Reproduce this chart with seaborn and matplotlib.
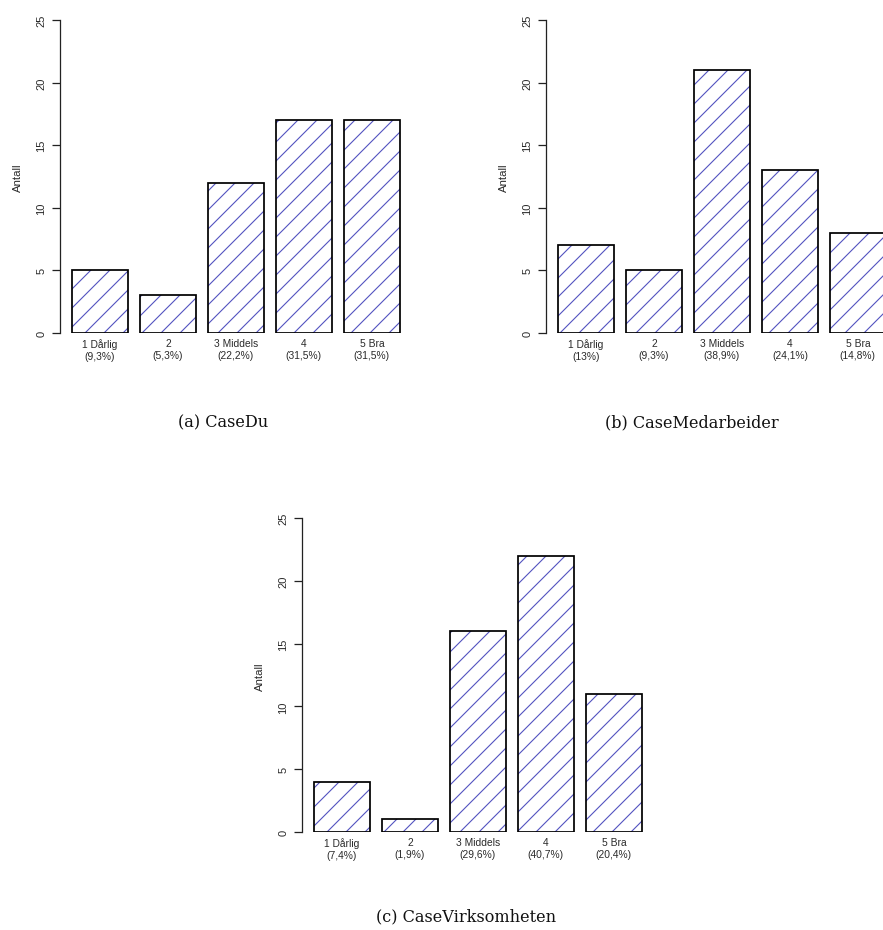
import matplotlib
matplotlib.use("Agg")
import matplotlib.pyplot as plt
import seaborn as sns

# ---------------- data ----------------
categories = ["1 Dårlig", "2", "3 Middels", "4", "5 Bra"]

du_counts = [5, 3, 12, 17, 17]
du_pct = ["9,3%", "5,3%", "22,2%", "31,5%", "31,5%"]

med_counts = [7, 5, 21, 13, 8]
med_pct = ["13%", "9,3%", "38,9%", "24,1%", "14,8%"]

virk_counts = [4, 1, 16, 22, 11]
virk_pct = ["7,4%", "1,9%", "29,6%", "40,7%", "20,4%"]

captions = ["(a) CaseDu", "(b) CaseMedarbeider", "(c) CaseVirksomheten"]
y_ticks = [0, 5, 10, 15, 20, 25]
y_label = "Antall"

# ---------------- style ----------------
sns.set_theme(style="white")
plt.rcParams["font.family"] = ["Liberation Sans", "DejaVu Sans"]
plt.rcParams["hatch.linewidth"] = 0.7

DPI = 114
W, H = 883, 931
fig = plt.figure(figsize=(W / DPI, H / DPI), dpi=DPI)
fig.patch.set_facecolor("white")

HATCH_COLOR = "#5353c0"
TEXT_COLOR = "#2a2a2a"


def px_axes(x0, x1, y_top, y_bottom):
    return fig.add_axes([x0 / W, 1 - y_bottom / H, (x1 - x0) / W, (y_bottom - y_top) / H])


def draw_panel(ax, counts, pct):
    sns.barplot(x=categories, y=counts, ax=ax, width=1 / 1.2, color="white",
                edgecolor=HATCH_COLOR, hatch="//", linewidth=0, saturation=1)
    sns.barplot(x=categories, y=counts, ax=ax, width=1 / 1.2, color="black",
                fill=False, linewidth=1.1, saturation=1)
    ax.set_facecolor("none")
    ax.set_xlim(-0.588, 4.62)
    ax.set_ylim(0, 26)
    for s in ["top", "right", "bottom"]:
        ax.spines[s].set_visible(False)
    ax.spines["left"].set_bounds(0, 25)
    ax.spines["left"].set_color("#222222")
    ax.spines["left"].set_linewidth(0.8)
    ax.set_yticks(y_ticks)
    ax.set_yticklabels([str(t) for t in y_ticks], rotation=90, va="center",
                       fontsize=7.0, color=TEXT_COLOR)
    ax.tick_params(axis="y", direction="out", length=4.9, width=0.8,
                   color="#222222", pad=3.6, left=True)
    ax.set_xticks(range(len(categories)))
    ax.set_xticklabels([f"{c}\n({p})" for c, p in zip(categories, pct)],
                       fontsize=6.5, color=TEXT_COLOR, linespacing=1.25)
    ax.tick_params(axis="x", length=0, pad=3.0)
    ax.set_xlabel("")
    ax.set_ylabel(y_label, fontsize=7.2, color=TEXT_COLOR)
    ax.yaxis.set_label_coords(-0.105, 0.48)
    ax.grid(False)


# panel a
ax_a = px_axes(60, 414, 334 - 26 * 12.52, 334)
draw_panel(ax_a, du_counts, du_pct)
# panel b (clipped at the right edge like the reference)
ax_b = px_axes(546, 900, 334 - 26 * 12.52, 334)
draw_panel(ax_b, med_counts, med_pct)
# panel c
ax_c = px_axes(302, 656, 833 - 26 * 12.56, 833)
draw_panel(ax_c, virk_counts, virk_pct)

cap_kw = dict(ha="center", va="center", family="DejaVu Serif", fontsize=10.2, color="#111111")
fig.text(223 / W, 1 - 423 / H, captions[0], **cap_kw)
fig.text(692 / W, 1 - 423 / H, captions[1], **cap_kw)
fig.text(466 / W, 1 - 917 / H, captions[2], **cap_kw)

fig.savefig("out.png", dpi=DPI, facecolor="white")
